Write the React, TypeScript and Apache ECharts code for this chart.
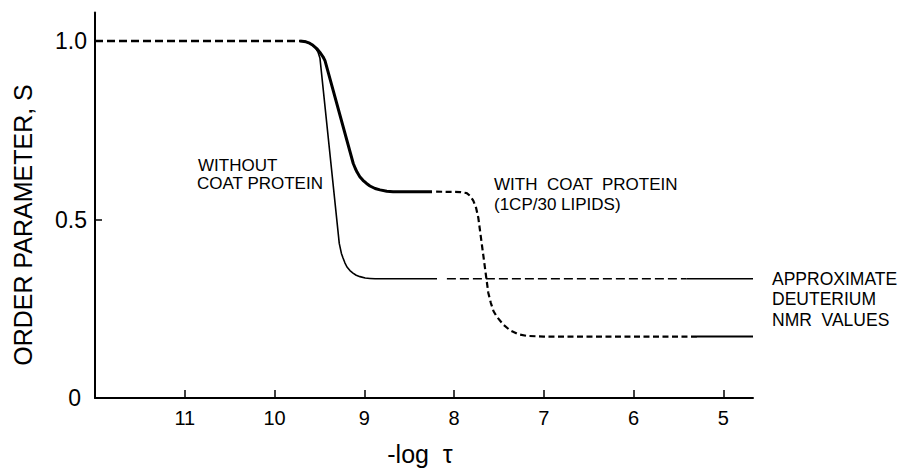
import React, { useEffect, useRef } from "react";
import * as echarts from "echarts";

// -log tau (x) and order parameter S (y)
const xTicks = [5, 6, 7, 8, 9, 10, 11];
const yTicks = [0, 0.5, 1];

const plateau: number[][] = [[12, 1], [9.716, 1]];

const withoutSolid: number[][] = [
  [9.716, 1.0], [9.66, 0.999], [9.605, 0.994], [9.55, 0.983], [9.516, 0.969], [9.494, 0.952],
  [9.279, 0.433], [9.255, 0.405], [9.237, 0.392], [9.215, 0.378], [9.193, 0.367], [9.16, 0.357],
  [9.126, 0.350], [9.09, 0.344], [9.048, 0.340], [8.99, 0.336], [8.937, 0.335], [8.88, 0.334],
  [8.825, 0.334], [8.19, 0.334],
];
const withoutDashed: number[][] = [[8.08, 0.334], [5.41, 0.334]];
const withoutSolidEnd: number[][] = [[5.41, 0.334], [4.67, 0.334]];

const withSolid: number[][] = [
  [9.716, 1.0], [9.65, 0.998], [9.61, 0.994], [9.572, 0.988], [9.53, 0.979], [9.494, 0.968],
  [9.46, 0.956], [9.438, 0.945], [9.123, 0.657], [9.10, 0.643], [9.081, 0.633], [9.05, 0.620],
  [9.015, 0.610], [8.975, 0.601], [8.937, 0.594], [8.88, 0.587], [8.825, 0.583], [8.75, 0.579],
  [8.68, 0.578], [8.246, 0.578],
];
const withDashed: number[][] = [
  [8.20, 0.578], [7.93, 0.577], [7.859, 0.574], [7.82, 0.566], [7.786, 0.553], [7.755, 0.533],
  [7.730, 0.505], [7.619, 0.295], [7.59, 0.266], [7.56, 0.243], [7.525, 0.228], [7.45, 0.205],
  [7.377, 0.190], [7.29, 0.179], [7.191, 0.174], [7.0, 0.172], [5.294, 0.172],
];
const withSolidEnd: number[][] = [[5.294, 0.172], [4.67, 0.172]];

const FONT = "Liberation Sans";

export default function App() {
  const ref = useRef<HTMLDivElement>(null);

  useEffect(() => {
    if (!ref.current) return;
    const chart = echarts.init(ref.current, undefined, { renderer: "svg" });

    const line = (data: number[][], width: number, type: any, z = 2) => ({
      type: "line",
      data,
      symbol: "none",
      silent: true,
      z,
      lineStyle: { color: "#000", width, type, cap: "butt", join: "round" },
    });

    chart.setOption({
      animation: false,
      backgroundColor: "#fff",
      grid: { left: 95, right: 148, top: 12.5, bottom: 70, containLabel: false },
      xAxis: {
        type: "value",
        inverse: true,
        min: 4.67,
        max: 12,
        axisLine: { show: true, onZero: false, lineStyle: { color: "#000", width: 2 } },
        axisTick: {
          show: true,
          inside: true,
          length: 8,
          customValues: xTicks,
          lineStyle: { color: "#000", width: 1.5 },
        },
        axisLabel: {
          customValues: xTicks,
          color: "#000",
          fontFamily: FONT,
          fontSize: 20,
          margin: 10,
          formatter: (v: number) => String(v),
        },
        splitLine: { show: false },
      },
      yAxis: {
        type: "value",
        min: 0,
        max: 1.08,
        axisLine: { show: true, lineStyle: { color: "#000", width: 2 } },
        axisTick: {
          show: true,
          inside: true,
          length: 7,
          customValues: [0.5, 1],
          lineStyle: { color: "#000", width: 1.5 },
        },
        axisLabel: {
          customValues: yTicks,
          color: "#000",
          fontFamily: FONT,
          fontSize: 23,
          margin: 8,
          formatter: (v: number) => (v === 0 ? "{z|0}" : v.toFixed(1)),
          rich: { z: { fontFamily: FONT, fontSize: 23, color: "#000", padding: [0, 6, 0, 0] } },
        },
        splitLine: { show: false },
      },
      graphic: [
        {
          type: "text",
          x: 23,
          y: 225,
          rotation: Math.PI / 2,
          style: {
            text: "ORDER PARAMETER, S",
            font: `25px "${FONT}"`,
            fill: "#000",
            textAlign: "center",
            textVerticalAlign: "middle",
          },
        },
        {
          type: "text",
          x: 420,
          y: 454,
          style: {
            text: "-log  τ",
            font: `25px "${FONT}"`,
            fill: "#000",
            textAlign: "center",
            textVerticalAlign: "middle",
          },
        },
        {
          type: "text",
          x: 198,
          y: 165,
          style: { text: "WITHOUT", font: `17px "${FONT}"`, fill: "#000", textVerticalAlign: "middle" },
        },
        {
          type: "text",
          x: 197,
          y: 183,
          style: { text: "COAT PROTEIN", font: `17px "${FONT}"`, fill: "#000", textVerticalAlign: "middle" },
        },
        {
          type: "text",
          x: 494,
          y: 184,
          style: { text: "WITH  COAT  PROTEIN", font: `17px "${FONT}"`, fill: "#000", textVerticalAlign: "middle" },
        },
        {
          type: "text",
          x: 494,
          y: 204,
          style: { text: "(1CP/30 LIPIDS)", font: `17px "${FONT}"`, fill: "#000", textVerticalAlign: "middle" },
        },
        {
          type: "text",
          x: 772,
          y: 279,
          style: { text: "APPROXIMATE", font: `17.5px "${FONT}"`, fill: "#000", textVerticalAlign: "middle" },
        },
        {
          type: "text",
          x: 772,
          y: 299,
          style: { text: "DEUTERIUM", font: `17.5px "${FONT}"`, fill: "#000", textVerticalAlign: "middle" },
        },
        {
          type: "text",
          x: 772,
          y: 320,
          style: { text: "NMR  VALUES", font: `17.5px "${FONT}"`, fill: "#000", textVerticalAlign: "middle" },
        },
      ],
      series: [
        line(plateau, 2.5, [8, 4]),
        line(withoutSolid, 1.6, "solid"),
        line(withoutDashed, 1.5, [9, 4]),
        line(withoutSolidEnd, 1.6, "solid"),
        line(withSolid, 3, "solid", 3),
        line(withDashed, 2.2, [6, 3.5]),
        line(withSolidEnd, 2, "solid"),
      ],
    });

    return () => chart.dispose();
  }, []);

  return <div ref={ref} style={{ width: 901, height: 468, position: "absolute", left: 0, top: 0 }} />;
}
